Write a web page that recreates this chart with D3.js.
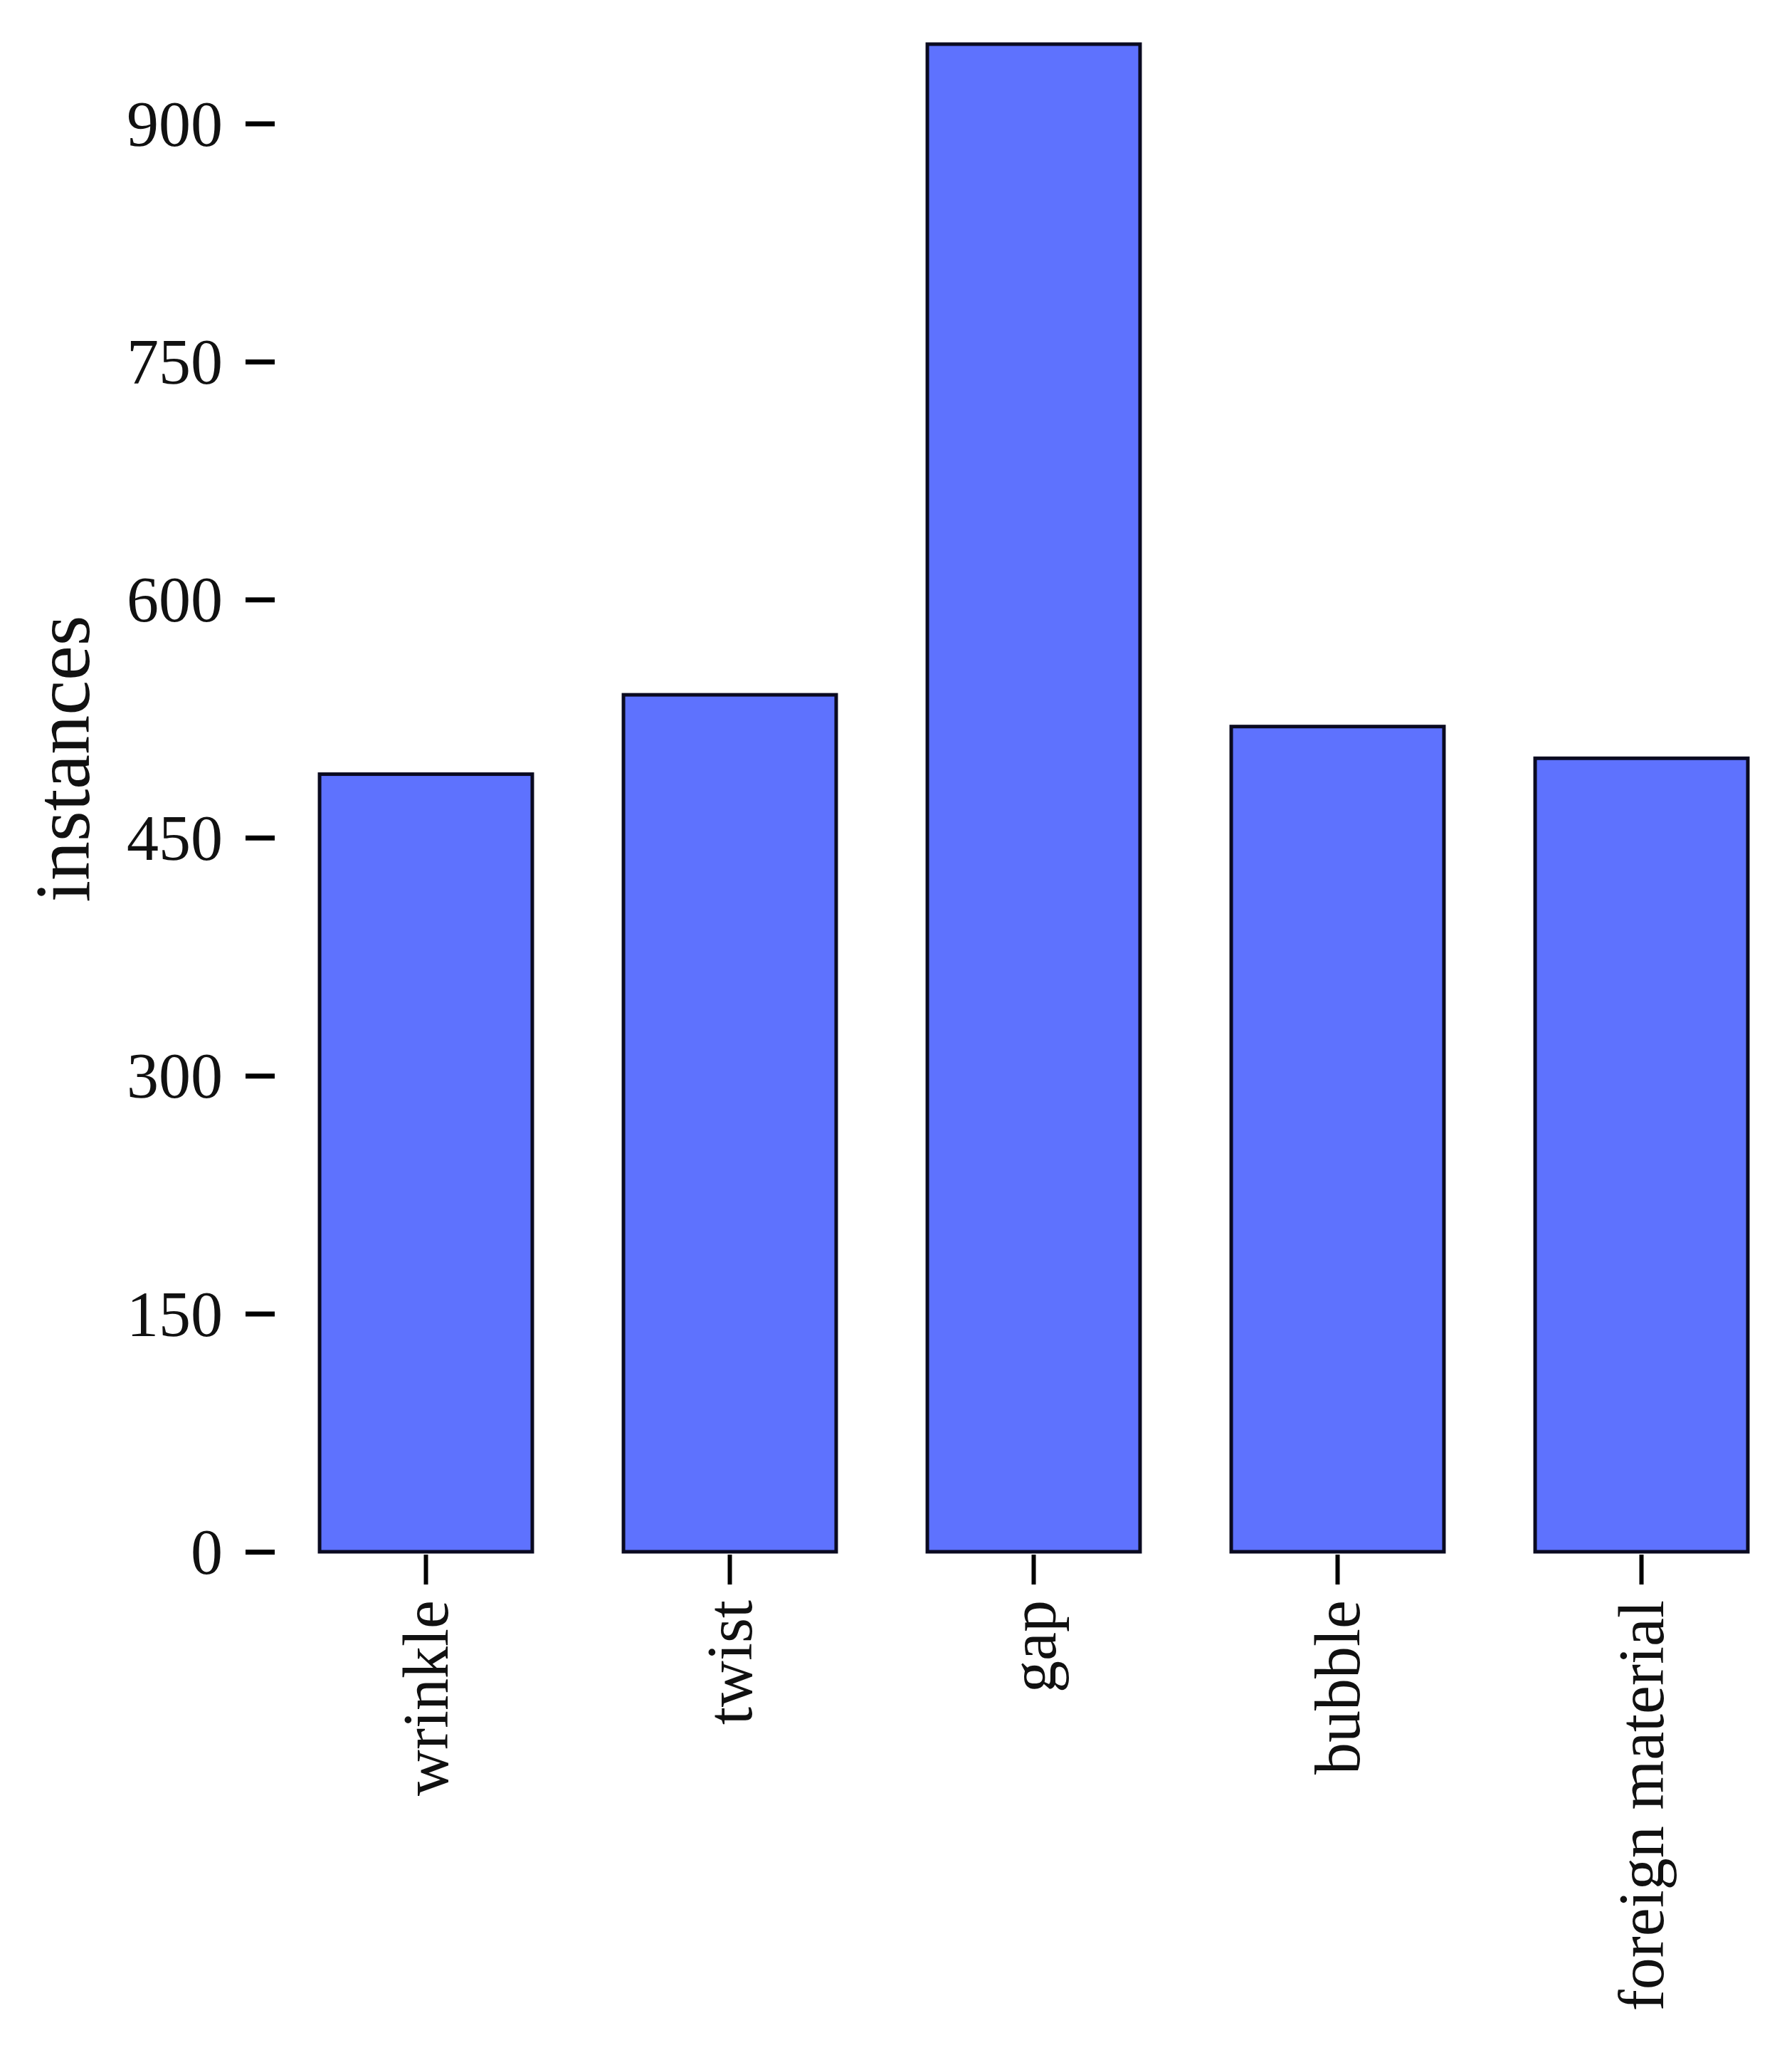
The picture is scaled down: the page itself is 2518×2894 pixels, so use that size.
<!DOCTYPE html>
<html>
<head>
<meta charset="utf-8">
<script src="https://cdn.jsdelivr.net/npm/d3@7"></script>
<style>
  html, body { margin: 0; padding: 0; background: #fff; }
  svg { display: block; }
</style>
</head>
<body>
<script>
const categories = ["wrinkle", "twist", "gap", "bubble", "foreign material"];
const values = [490, 540, 950, 520, 500];
const yTicks = [0, 150, 300, 450, 600, 750, 900];
const yLabel = "instances";

const W = 2518, H = 2894;
const svg = d3.select("body").append("svg").attr("width", W).attr("height", H);

const x = d3.scaleBand().domain(categories).range([385, 2520]).paddingInner(0.3).paddingOuter(0.15);
const y = d3.scaleLinear().domain([0, 900]).range([2180, 173.5]);

const font = "'Liberation Serif', 'DejaVu Serif', serif";

svg.append("g").selectAll("rect").data(categories).join("rect")
  .attr("x", d => x(d))
  .attr("width", x.bandwidth())
  .attr("y", (d, i) => y(values[i]))
  .attr("height", (d, i) => y(0) - y(values[i]))
  .attr("fill", "#5E72FE")
  .attr("stroke", "#0a0a20")
  .attr("stroke-width", 5);

// Y axis
const yAxis = svg.append("g").attr("transform", "translate(386,0)")
  .call(d3.axisLeft(y).tickValues(yTicks).tickSize(41).tickPadding(32));
yAxis.select(".domain").remove();
yAxis.selectAll(".tick line").attr("stroke", "#000").attr("stroke-width", 7);
yAxis.selectAll(".tick text").attr("font-family", font).attr("font-size", 90).attr("fill", "#111")
  .attr("dy", "0.34em");

// X axis
const xAxis = svg.append("g").attr("transform", "translate(0,2184)")
  .call(d3.axisBottom(x).tickSize(42).tickPadding(24));
xAxis.select(".domain").remove();
xAxis.selectAll(".tick line").attr("stroke", "#000").attr("stroke-width", 6);
xAxis.selectAll(".tick text")
  .attr("font-family", font).attr("font-size", 90).attr("fill", "#111")
  .attr("transform", "rotate(-90)")
  .attr("text-anchor", "end")
  .attr("x", -64).attr("y", 0).attr("dy", "0.34em");

// Y label
svg.append("text")
  .attr("transform", "translate(88,1066) rotate(-90)")
  .attr("text-anchor", "middle")
  .attr("dy", "0.34em")
  .attr("font-family", font).attr("font-size", 110).attr("fill", "#111")
  .text(yLabel);
</script>
</body>
</html>
